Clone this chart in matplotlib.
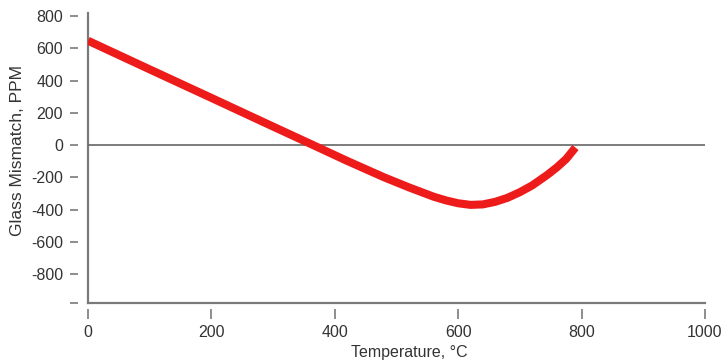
import matplotlib
matplotlib.use("Agg")
import matplotlib.pyplot as plt

plt.rcParams['font.family'] = ['Liberation Sans', 'DejaVu Sans']
plt.rcParams['axes.unicode_minus'] = False

# glass mismatch curve
temps = [0, 100, 200, 300, 365, 420, 480, 520, 560, 580, 600, 620, 640,
         660, 680, 700, 720, 744, 760, 775, 790]
mismatch = [648, 470, 293, 115, 0, -98, -200, -262, -320, -343, -361, -371,
            -368, -352, -327, -292, -250, -186, -138, -86, -15]

xticks = [0, 200, 400, 600, 800, 1000]
yticks = [800, 600, 400, 200, 0, -200, -400, -600, -800]

txt = "#333333"
gray = "#7a7a7a"

fig = plt.figure(figsize=(7.25, 3.61), dpi=100)
ax = fig.add_axes([88 / 725, 58 / 361, 617 / 725, 290 / 361])

ax.set_xlim(0, 1000)
ax.set_ylim(-980, 820)

# axis lines drawn by hand, ticks sit off the spines with a small gap
for side in ["top", "right", "left", "bottom"]:
    ax.spines[side].set_visible(False)
ax.spines["left"].set_position(("outward", 7))
ax.spines["bottom"].set_position(("outward", 4.3))
ax.axvline(0, color=gray, lw=1.6, clip_on=False)
ax.axhline(-980, color=gray, lw=1.6, clip_on=False)
ax.axhline(0, color="#666666", lw=1.2)

ax.plot(temps, mismatch, color="#ee1b1b", lw=5.8, solid_capstyle="butt",
        solid_joinstyle="round")

ax.set_xticks(xticks)
ax.set_xticklabels([str(t) for t in xticks])
ax.set_yticks(yticks + [-980])
ax.set_yticklabels([str(t) for t in yticks] + [""])
ax.tick_params(axis="y", direction="out", length=6, width=1.2, color=gray,
               pad=5, labelsize=11.5, labelcolor=txt)
ax.tick_params(axis="x", direction="out", length=7, width=1.2, color=gray,
               pad=4.5, labelsize=11.5, labelcolor=txt)

fig.text(18 / 725, 1 - 150 / 361, "Glass Mismatch, PPM", rotation=90,
         ha="center", va="center", fontsize=12.5, color=txt)
fig.text(409 / 725, 1 - 352 / 361, "Temperature, °C", ha="center",
         va="center", fontsize=11.5, color=txt)

fig.savefig("out.png", dpi=100)
